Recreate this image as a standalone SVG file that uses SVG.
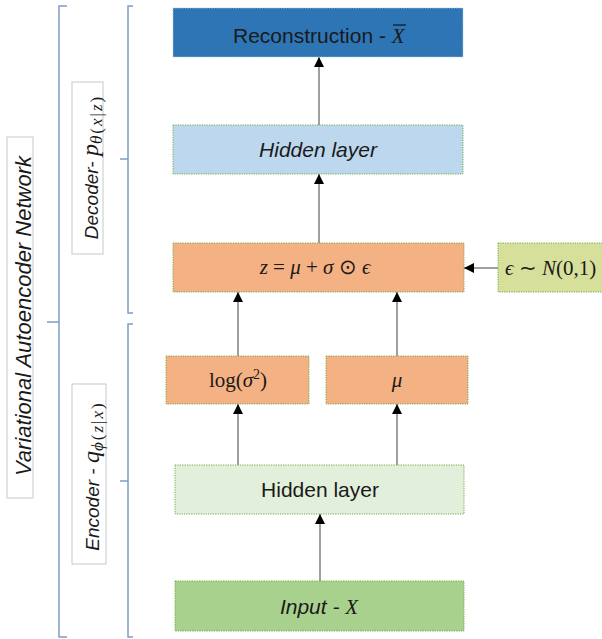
<svg xmlns="http://www.w3.org/2000/svg" width="602" height="639" viewBox="0 0 602 639">
<defs>
<style>
.box{stroke:#70ad47;stroke-width:1;stroke-dasharray:1.2 1.2}
.lbl{fill:#ffffff;stroke:#c8c8c8;stroke-width:1}
.sans{font-family:"Liberation Sans",Arial,sans-serif;font-size:21px;fill:#1a1a1a}
.math{font-family:"Liberation Serif","Times New Roman",serif;font-size:21px;fill:#1a1a1a}
.it{font-style:italic}
.sub{font-family:"Liberation Serif","Times New Roman",serif;font-size:17px;letter-spacing:2px}
.br{fill:none;stroke:#7f9cc8;stroke-width:1.5}
.conn{stroke:#808080;stroke-width:1.5;fill:none}
</style>
<marker id="arr" viewBox="0 0 10 10" refX="10" refY="5" markerWidth="10" markerHeight="10" markerUnits="userSpaceOnUse" orient="auto">
<path d="M0,0 L10,5 L0,10 Z" fill="#000"/>
</marker>
</defs>
<rect width="602" height="639" fill="#ffffff"/>

<g id="brackets">
<path class="br" d="M67,6 H59 V637 H67 M59,322 H47"/>
<path class="br" d="M133,6 H128 V313 H133 M128,159 H120"/>
<path class="br" d="M133,324 H128 V637 H133 M128,481 H120"/>
</g>

<g id="label-vae">
<rect class="lbl" x="7" y="137" width="26" height="361"/>
<text class="sans it" x="31" y="316" text-anchor="middle" font-size="22" transform="rotate(-90 31 316)" style="font-size:22px">Variational Autoencoder Network</text>
</g>
<g id="label-decoder">
<rect class="lbl" x="72" y="82" width="31" height="172"/>
<text class="sans it" x="98" y="167" text-anchor="middle" transform="rotate(-90 98 167)" style="font-size:19px">Decoder- <tspan class="math it" style="font-size:24px">p</tspan><tspan class="sub it" dy="4">θ</tspan><tspan class="sub" font-style="normal">(</tspan><tspan class="sub it">x</tspan><tspan class="sub" font-style="normal">|</tspan><tspan class="sub it">z</tspan><tspan class="sub" font-style="normal">)</tspan></text>
</g>
<g id="label-encoder">
<rect class="lbl" x="72" y="384" width="34" height="180"/>
<text class="sans it" x="99" y="476" text-anchor="middle" transform="rotate(-90 99 476)" style="font-size:19px">Encoder - <tspan class="math it" style="font-size:24px">q</tspan><tspan class="sub it" dy="4">ϕ</tspan><tspan class="sub" font-style="normal">(</tspan><tspan class="sub it">z</tspan><tspan class="sub" font-style="normal">|</tspan><tspan class="sub it">x</tspan><tspan class="sub" font-style="normal">)</tspan></text>
</g>

<g id="connectors">
<line class="conn" x1="319" y1="125" x2="319" y2="57" marker-end="url(#arr)"/>
<line class="conn" x1="319" y1="243" x2="319" y2="174" marker-end="url(#arr)"/>
<line class="conn" x1="498" y1="268" x2="464" y2="268" marker-end="url(#arr)"/>
<line class="conn" x1="238" y1="356" x2="238" y2="292" marker-end="url(#arr)"/>
<line class="conn" x1="397" y1="356" x2="397" y2="292" marker-end="url(#arr)"/>
<line class="conn" x1="238" y1="465" x2="238" y2="404" marker-end="url(#arr)"/>
<line class="conn" x1="397" y1="465" x2="397" y2="404" marker-end="url(#arr)"/>
<line class="conn" x1="320" y1="581" x2="320" y2="514" marker-end="url(#arr)"/>
</g>

<g id="reconstruction">
<rect class="box" x="173" y="8" width="290" height="49" fill="#2e75b6" style="stroke:#b8c4d0"/>
<text class="sans" x="233" y="43">Reconstruction - <tspan class="math it">X</tspan></text>
<line x1="393" y1="25" x2="406" y2="25" stroke="#1a1a1a" stroke-width="1.3"/>
</g>
<g id="decoder-hidden">
<rect class="box" x="173" y="125" width="290" height="49" fill="#bdd7ee"/>
<text class="sans it" x="318" y="157" text-anchor="middle">Hidden layer</text>
</g>
<g id="z">
<rect class="box" x="173" y="243" width="291" height="49" fill="#f4b183"/>
<text class="math" x="315" y="274" text-anchor="middle"><tspan class="it">z</tspan> = <tspan class="it">μ</tspan> + <tspan class="it">σ</tspan> ⊙ <tspan class="it">ϵ</tspan></text>
</g>
<g id="epsilon">
<rect class="box" x="498" y="243" width="110" height="49" fill="#d6e09b"/>
<text class="math" x="505" y="275"><tspan class="it">ϵ</tspan> ∼ <tspan class="it">N</tspan>(0,1)</text>
</g>
<g id="logvar">
<rect class="box" x="166" y="356" width="143" height="48" fill="#f4b183"/>
<text class="math" x="238" y="387" text-anchor="middle">log(<tspan class="it">σ</tspan><tspan style="font-size:14px" dy="-8">2</tspan><tspan dy="8">)</tspan></text>
</g>
<g id="mu">
<rect class="box" x="326" y="356" width="142" height="48" fill="#f4b183"/>
<text class="math it" x="397" y="387" text-anchor="middle">μ</text>
</g>
<g id="encoder-hidden">
<rect class="box" x="175" y="465" width="289" height="49" fill="#e2efda"/>
<text class="sans" x="320" y="497" text-anchor="middle">Hidden layer</text>
</g>
<g id="input">
<rect class="box" x="175" y="581" width="289" height="50" fill="#a9d18e"/>
<text class="sans it" x="319" y="614" text-anchor="middle">Input - <tspan class="math">X</tspan></text>
</g>
</svg>
